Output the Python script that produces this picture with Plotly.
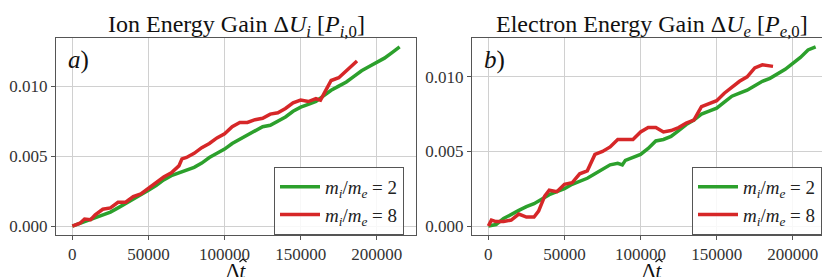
import plotly.graph_objects as go

# ---- data ----
t_ion_m2 = [0, 5000, 10000, 15000, 20000, 25000, 30000, 35000, 40000, 45000, 50000, 55000,
            60000, 65000, 70000, 75000, 80000, 85000, 90000, 95000, 100000, 105000, 110000,
            115000, 120000, 125000, 130000, 135000, 140000, 145000, 150000, 155000, 160000,
            165000, 170000, 175000, 180000, 185000, 190000, 195000, 200000, 205000, 210000, 215000]
u_ion_m2 = [0.0, 0.0002, 0.0004, 0.0006, 0.0008, 0.0010, 0.0013, 0.0016, 0.0019, 0.0022, 0.00255,
            0.0029, 0.0033, 0.0036, 0.0038, 0.0040, 0.0042, 0.0045, 0.0049, 0.0052, 0.0055, 0.0059,
            0.0062, 0.0065, 0.0068, 0.0071, 0.0072, 0.0075, 0.0078, 0.0082, 0.0085, 0.0087, 0.0089,
            0.0093, 0.0097, 0.0100, 0.0103, 0.0107, 0.0111, 0.0114, 0.0117, 0.0120, 0.0124, 0.0128]

t_ion_m8 = [0, 5000, 8000, 12000, 15000, 20000, 25000, 30000, 35000, 40000, 45000, 50000, 55000,
            60000, 65000, 70000, 72000, 75000, 80000, 85000, 90000, 95000, 100000, 105000, 110000,
            115000, 120000, 125000, 130000, 135000, 140000, 145000, 150000, 155000, 160000, 163000,
            167000, 170000, 175000, 180000, 185000, 187000]
u_ion_m8 = [0.0, 0.0002, 0.0005, 0.00045, 0.0008, 0.0012, 0.0013, 0.0017, 0.0017, 0.0021, 0.0023,
            0.0027, 0.0031, 0.0035, 0.0038, 0.0043, 0.0048, 0.0049, 0.0052, 0.0056, 0.0059, 0.0063,
            0.0066, 0.0071, 0.0074, 0.0074, 0.0076, 0.0077, 0.0080, 0.0081, 0.0084, 0.0088, 0.0090,
            0.0089, 0.0091, 0.0090, 0.0098, 0.0104, 0.0106, 0.0111, 0.0116, 0.0118]

t_el_m2 = [0, 5000, 10000, 15000, 20000, 25000, 30000, 35000, 40000, 45000, 50000, 55000, 60000,
           65000, 70000, 75000, 80000, 85000, 88000, 90000, 95000, 100000, 105000, 110000, 115000,
           120000, 125000, 130000, 135000, 140000, 145000, 150000, 155000, 160000, 165000, 170000,
           175000, 180000, 185000, 190000, 195000, 200000, 205000, 210000, 215000]
u_el_m2 = [0.0, 0.0001, 0.0005, 0.0008, 0.00105, 0.0013, 0.0015, 0.0018, 0.0021, 0.0023, 0.0025,
           0.0028, 0.0030, 0.0032, 0.0035, 0.0038, 0.0041, 0.0042, 0.0041, 0.0044, 0.0046, 0.0048,
           0.0052, 0.0057, 0.0058, 0.0060, 0.0064, 0.0068, 0.0071, 0.0075, 0.0077, 0.0079, 0.0083,
           0.0087, 0.0089, 0.0091, 0.0094, 0.0097, 0.0099, 0.0102, 0.0105, 0.0109, 0.0113, 0.0118, 0.0120]

t_el_m8 = [0, 2000, 5000, 10000, 15000, 20000, 25000, 30000, 33000, 37000, 40000, 45000, 50000,
           55000, 60000, 65000, 70000, 75000, 80000, 85000, 90000, 95000, 100000, 105000, 110000,
           115000, 120000, 125000, 130000, 135000, 140000, 145000, 150000, 155000, 160000, 165000,
           170000, 175000, 180000, 187000]
u_el_m8 = [0.0, 0.0004, 0.0003, 0.0003, 0.0004, 0.0008, 0.0006, 0.0006, 0.0010, 0.0020, 0.0024,
           0.0023, 0.0028, 0.0029, 0.0035, 0.0037, 0.0048, 0.0050, 0.0053, 0.0058, 0.0058, 0.0058,
           0.0063, 0.0066, 0.0066, 0.0063, 0.0064, 0.0066, 0.0069, 0.0071, 0.0080, 0.0082, 0.0084,
           0.0089, 0.0093, 0.0097, 0.0100, 0.0106, 0.0108, 0.0107]

x_ticks = [0, 50000, 100000, 150000, 200000]
y_ticks = [0.0, 0.005, 0.010]
series_names = ["<i>m<sub>i</sub></i>/<i>m<sub>e</sub></i> = 2", "<i>m<sub>i</sub></i>/<i>m<sub>e</sub></i> = 8"]
titles = ["Ion Energy Gain Δ<i>U<sub>i</sub></i> [<i>P<sub>i</sub></i><sub>,0</sub>]",
          "Electron Energy Gain Δ<i>U<sub>e</sub></i> [<i>P<sub>e</sub></i><sub>,0</sub>]"]
panel_labels = ["<i>a</i>)", "<i>b</i>)"]
x_title = "Δ<i>t</i>"

GREEN = "#2ca02c"
RED = "#d62728"
FONT = "Liberation Serif"
W, H = 830, 277

fig = go.Figure()

fig.add_trace(go.Scatter(x=t_ion_m2, y=u_ion_m2, mode="lines", line=dict(color=GREEN, width=3.5),
                         name=series_names[0], xaxis="x", yaxis="y", legend="legend"))
fig.add_trace(go.Scatter(x=t_ion_m8, y=u_ion_m8, mode="lines", line=dict(color=RED, width=3.5),
                         name=series_names[1], xaxis="x", yaxis="y", legend="legend"))
fig.add_trace(go.Scatter(x=t_el_m2, y=u_el_m2, mode="lines", line=dict(color=GREEN, width=3.5),
                         name=series_names[0], xaxis="x2", yaxis="y2", legend="legend2"))
fig.add_trace(go.Scatter(x=t_el_m8, y=u_el_m8, mode="lines", line=dict(color=RED, width=3.5),
                         name=series_names[1], xaxis="x2", yaxis="y2", legend="legend2"))

d1 = [48 / W, 408 / W]
d2 = [464 / W, 824 / W]
yd = [50 / H, 247 / H]

axis_common = dict(showgrid=True, gridcolor="#d0d0d0", gridwidth=1, showline=True, linecolor="#555555",
                   linewidth=1, mirror=True, ticks="outside", ticklen=4, tickcolor="#555555",
                   zeroline=False, tickfont=dict(family=FONT, size=17, color="#333333"))

legend_common = dict(xanchor="left", yanchor="bottom", bgcolor="rgba(255,255,255,0.85)",
                     bordercolor="#555555", borderwidth=1, tracegroupgap=0, itemwidth=40,
                     font=dict(family=FONT, size=19, color="#222222"))

fig.update_layout(
    width=W, height=H, margin=dict(l=0, r=0, t=0, b=0),
    paper_bgcolor="white", plot_bgcolor="white",
    xaxis=dict(domain=d1, anchor="y", range=[-10750, 225750], tickvals=x_ticks, tickformat="d",
               **axis_common),
    yaxis=dict(domain=yd, anchor="x", range=[-0.00064, 0.01344], tickvals=y_ticks, tickformat=".3f",
               **axis_common),
    xaxis2=dict(domain=d2, anchor="y2", range=[-10750, 225750], tickvals=x_ticks, tickformat="d",
                **axis_common),
    yaxis2=dict(domain=yd, anchor="x2", range=[-0.0006, 0.0126], tickvals=y_ticks, tickformat=".3f",
                **axis_common),
    legend=dict(x=266 / W, y=yd[0], **legend_common),
    legend2=dict(x=684 / W, y=yd[0], **legend_common),
    showlegend=True,
)

for i, (dom, ttl, lab) in enumerate(zip([d1, d2], titles, panel_labels)):
    cx = (dom[0] + dom[1]) / 2
    fig.add_annotation(text=ttl, x=cx, y=1 - 1 / H, xref="paper", yref="paper",
                       xanchor="center", yanchor="top", showarrow=False,
                       font=dict(family=FONT, size=24, color="#111111"))
    fig.add_annotation(text=lab, x=dom[0] + 10 / W, y=1 - 52 / H, xref="paper", yref="paper",
                       xanchor="left", yanchor="middle", showarrow=False,
                       font=dict(family=FONT, size=25, color="#111111"))
    xc = dom[0] * W + (228 - 48)
    fig.add_annotation(text=x_title, x=xc / W, y=1 - 263 / H, xref="paper", yref="paper",
                       xanchor="center", yanchor="middle", showarrow=False, borderpad=0,
                       font=dict(family=FONT, size=21, color="#111111"))
    # circumflex accent over the t, drawn as a small path
    hx, hy = xc + 7, 251
    path = (f"M {(hx - 3.5) / W} {1 - (hy + 3) / H} L {hx / W} {1 - hy / H} "
            f"L {(hx + 3.5) / W} {1 - (hy + 3) / H}")
    fig.add_shape(type="path", path=path, xref="paper", yref="paper",
                  line=dict(color="#111111", width=1.2))

fig.write_html("out.html")
